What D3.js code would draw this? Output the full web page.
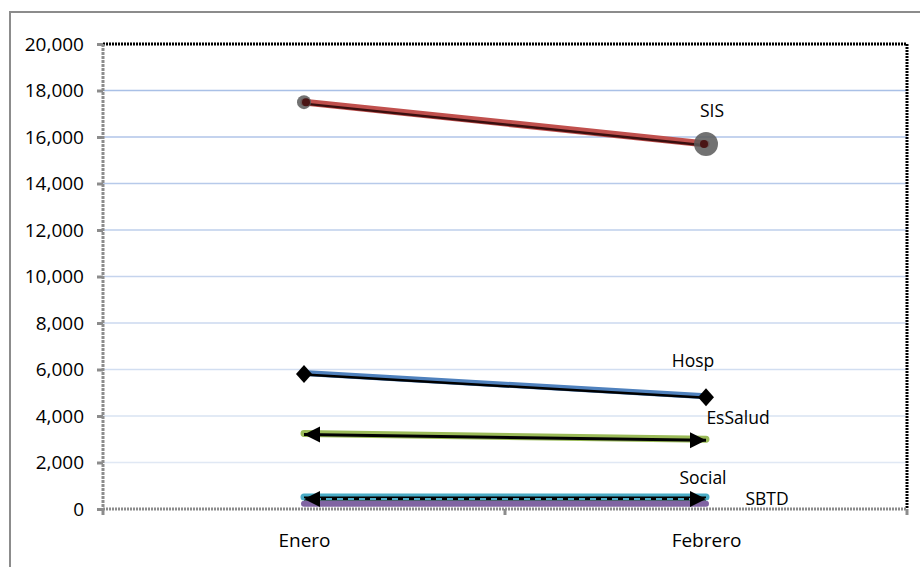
<!DOCTYPE html>
<html><head><meta charset="utf-8">
<script src="https://cdn.jsdelivr.net/npm/d3@7"></script>
<style>body{margin:0;background:#fff}svg{display:block}</style>
</head><body>
<svg id="c" width="920" height="567"></svg>
<script>
const categories = ["Enero", "Febrero"];
const sis = [17500, 15700];
const hosp = [5850, 4850];
const essalud = [3250, 3000];
const social = [520, 520];
const sbtd = [330, 330];
const yTicks = [0, 2000, 4000, 6000, 8000, 10000, 12000, 14000, 16000, 18000, 20000];
const seriesNames = ["SIS", "Hosp", "EsSalud", "Social", "SBTD"];

const svg = d3.select("#c");
const font = "'Open Sans', sans-serif";
const L = 103, R = 907, T = 44, B = 509;
const x = d3.scalePoint().domain(categories).range([L, R]).padding(0.5);
const y = d3.scaleLinear().domain([0, 20000]).range([B, T]);

// outer frame
svg.append("rect").attr("x", 10).attr("y", 12).attr("width", 930).attr("height", 580)
  .attr("fill", "none").attr("stroke", "#8c8c8c").attr("stroke-width", 2);

// gridlines
const gridCol = d3.scaleLinear().domain([2000, 18000]).range(["#e0e8f4", "#a9c0e6"]);
svg.append("g").selectAll("line").data(yTicks.filter(t => t > 0 && t < 20000)).join("line")
  .attr("x1", L).attr("x2", R).attr("y1", d => y(d)).attr("y2", d => y(d))
  .attr("stroke", d => gridCol(d)).attr("stroke-width", 1.5);

// top and right borders (black dotted)
svg.append("path").attr("d", `M${L},${y(20000)}H${R}V${B}`)
  .attr("fill", "none").attr("stroke", "#000").attr("stroke-width", 3).attr("stroke-dasharray", "2,1");

// y axis
const yAxis = d3.axisLeft(y).tickValues(yTicks).tickSize(6).tickFormat(d3.format(","));
const gy = svg.append("g").attr("transform", `translate(${L},0)`).call(yAxis);
gy.select(".domain").attr("stroke", "#8c8c8c").attr("stroke-width", 3).attr("stroke-dasharray", "3,1")
  .attr("d", `M0,${T}V${B}`);
gy.selectAll(".tick line").attr("stroke", "#8c8c8c").attr("stroke-width", 3);
gy.selectAll(".tick text").attr("font-family", font).attr("font-size", 19).attr("fill", "#000").attr("x", -19);

// x axis
const xAxis = d3.axisBottom(x).tickSize(0);
const gx = svg.append("g").attr("transform", `translate(0,${B})`).call(xAxis);
gx.select(".domain").attr("stroke", "#8c8c8c").attr("stroke-width", 3).attr("stroke-dasharray", "2,1")
  .attr("d", `M${L},0H${R}`);
gx.selectAll(".tick text").attr("font-family", font).attr("font-size", 19).attr("fill", "#000").attr("dy", 0).attr("y", 38);
const xTickPos = [L, (L + R) / 2, R];
gx.append("g").selectAll("line").data(xTickPos).join("line")
  .attr("x1", d => d).attr("x2", d => d).attr("y1", 0).attr("y2", 6)
  .attr("stroke", "#8c8c8c").attr("stroke-width", 3);

const line = d3.line().x((d, i) => x(categories[i])).y(d => y(d));
const lineOff = (dy) => d3.line().x((d, i) => x(categories[i])).y(d => y(d) + dy);
const g = svg.append("g");

// SBTD purple
g.append("path").attr("d", lineOff(2.5)(sbtd)).attr("fill", "none").attr("stroke", "#8064a2")
  .attr("stroke-width", 6).attr("stroke-linecap", "round");
// Social cyan + black + dashes
g.append("path").attr("d", line(social)).attr("fill", "none").attr("stroke", "#4bacc6")
  .attr("stroke-width", 7).attr("stroke-linecap", "round");
g.append("path").attr("d", lineOff(1.5)(social)).attr("fill", "none").attr("stroke", "#000")
  .attr("stroke-width", 4);
g.append("path").attr("d", lineOff(2)(social)).attr("fill", "none").attr("stroke", "#4bacc6")
  .attr("stroke-width", 2).attr("stroke-dasharray", "6,5");

// EsSalud green + black
g.append("path").attr("d", line(essalud)).attr("fill", "none").attr("stroke", "#9bbb59")
  .attr("stroke-width", 7).attr("stroke-linecap", "round");
g.append("path").attr("d", lineOff(1)(essalud)).attr("fill", "none").attr("stroke", "#000")
  .attr("stroke-width", 3);

// Hosp blue + black
g.append("path").attr("d", line(hosp)).attr("fill", "none").attr("stroke", "#4f81bd")
  .attr("stroke-width", 6).attr("stroke-linecap", "round");
g.append("path").attr("d", lineOff(1.5)(hosp)).attr("fill", "none").attr("stroke", "#000")
  .attr("stroke-width", 2.5);

// SIS red + black
g.append("path").attr("d", line(sis)).attr("fill", "none").attr("stroke", "#c0504d")
  .attr("stroke-width", 7).attr("stroke-linecap", "round");
g.append("path").attr("d", lineOff(1.5)(sis)).attr("fill", "none").attr("stroke", "#3b0f0f")
  .attr("stroke-width", 2.5);

// SIS circles
g.append("g").selectAll("circle").data(sis).join("circle")
  .attr("cx", (d, i) => x(categories[i])).attr("cy", d => y(d))
  .attr("r", (d, i) => i === 0 ? 7 : 12).attr("fill", "#595959").attr("fill-opacity", 0.85);
g.append("circle").attr("cx", x(categories[0]) + 2).attr("cy", y(sis[0])).attr("r", 4).attr("fill", "#4a1515");
g.append("circle").attr("cx", x(categories[1]) - 2).attr("cy", y(sis[1])).attr("r", 4).attr("fill", "#4a1515");

// Hosp diamonds
g.append("g").selectAll("path").data(hosp).join("path")
  .attr("transform", (d, i) => `translate(${x(categories[i])},${y(d) + 1})`)
  .attr("d", "M0,-9L8,0L0,9L-8,0Z").attr("fill", "#000");

// arrows for EsSalud and Social
function arrows(vals, dy) {
  g.append("g").selectAll("path").data(vals).join("path")
    .attr("transform", (d, i) => `translate(${x(categories[i])},${y(d) + dy})`)
    .attr("d", (d, i) => i === 0 ? "M0,0L16,-8L16,8Z" : "M0,0L-16,-8L-16,8Z")
    .attr("fill", "#000");
}
arrows(essalud, 1);
arrows(social, 2);

// series labels
const labelPos = [
  {name: seriesNames[0], v: sis[1], dx: 6, dy: -32},
  {name: seriesNames[1], v: hosp[1], dx: -13, dy: -34},
  {name: seriesNames[2], v: essalud[1], dx: 32, dy: -20},
  {name: seriesNames[3], v: social[1], dx: -3, dy: -18},
  {name: seriesNames[4], v: sbtd[1], dx: 61, dy: -1}
];
svg.append("g").selectAll("text").data(labelPos).join("text")
  .attr("x", d => x(categories[1]) + d.dx).attr("y", d => y(d.v) + d.dy)
  .attr("text-anchor", "middle").attr("font-family", font).attr("font-size", 17.5)
  .attr("dominant-baseline", "middle").attr("fill", "#000").text(d => d.name);
</script>
</body></html>
